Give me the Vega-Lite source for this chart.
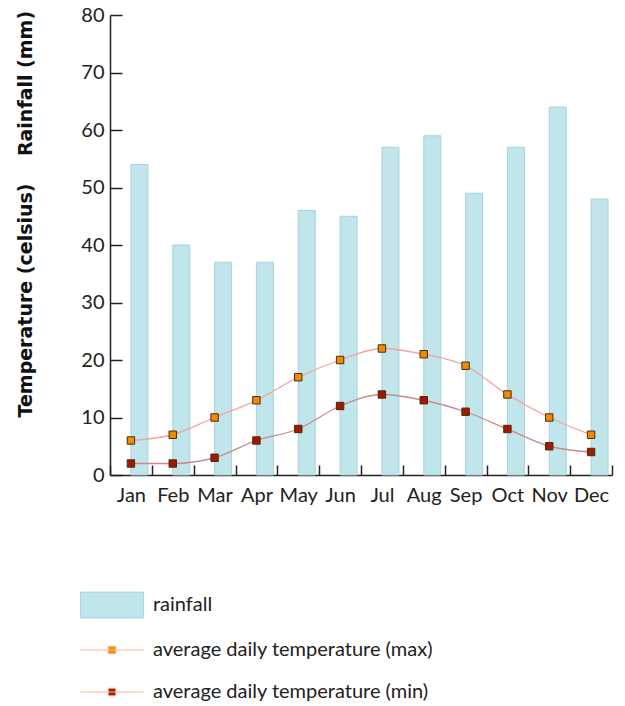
{
  "$schema": "https://vega.github.io/schema/vega-lite/v6.json",
  "width": 502,
  "height": 460,
  "autosize": {"type": "none"},
  "padding": {"left": 110, "top": 15, "right": 13, "bottom": 231},
  "background": "white",
  "config": {"view": {"stroke": null}, "axis": {"grid": false}, "legend": {"offset": 0}},
  "datasets": {
    "rain": [
      {"month": "Jan", "rainfall": 54},
      {"month": "Feb", "rainfall": 40},
      {"month": "Mar", "rainfall": 37},
      {"month": "Apr", "rainfall": 37},
      {"month": "May", "rainfall": 46},
      {"month": "Jun", "rainfall": 45},
      {"month": "Jul", "rainfall": 57},
      {"month": "Aug", "rainfall": 59},
      {"month": "Sep", "rainfall": 49},
      {"month": "Oct", "rainfall": 57},
      {"month": "Nov", "rainfall": 64},
      {"month": "Dec", "rainfall": 48}
    ],
    "temp": [
      {"month": "Jan", "series": "average daily temperature (max)", "temp": 6},
      {"month": "Feb", "series": "average daily temperature (max)", "temp": 7},
      {"month": "Mar", "series": "average daily temperature (max)", "temp": 10},
      {"month": "Apr", "series": "average daily temperature (max)", "temp": 13},
      {"month": "May", "series": "average daily temperature (max)", "temp": 17},
      {"month": "Jun", "series": "average daily temperature (max)", "temp": 20},
      {"month": "Jul", "series": "average daily temperature (max)", "temp": 22},
      {"month": "Aug", "series": "average daily temperature (max)", "temp": 21},
      {"month": "Sep", "series": "average daily temperature (max)", "temp": 19},
      {"month": "Oct", "series": "average daily temperature (max)", "temp": 14},
      {"month": "Nov", "series": "average daily temperature (max)", "temp": 10},
      {"month": "Dec", "series": "average daily temperature (max)", "temp": 7},
      {"month": "Jan", "series": "average daily temperature (min)", "temp": 2},
      {"month": "Feb", "series": "average daily temperature (min)", "temp": 2},
      {"month": "Mar", "series": "average daily temperature (min)", "temp": 3},
      {"month": "Apr", "series": "average daily temperature (min)", "temp": 6},
      {"month": "May", "series": "average daily temperature (min)", "temp": 8},
      {"month": "Jun", "series": "average daily temperature (min)", "temp": 12},
      {"month": "Jul", "series": "average daily temperature (min)", "temp": 14},
      {"month": "Aug", "series": "average daily temperature (min)", "temp": 13},
      {"month": "Sep", "series": "average daily temperature (min)", "temp": 11},
      {"month": "Oct", "series": "average daily temperature (min)", "temp": 8},
      {"month": "Nov", "series": "average daily temperature (min)", "temp": 5},
      {"month": "Dec", "series": "average daily temperature (min)", "temp": 4}
    ]
  },
  "encoding": {
    "x": {
      "field": "month",
      "type": "ordinal",
      "sort": ["Jan", "Feb", "Mar", "Apr", "May", "Jun", "Jul", "Aug", "Sep", "Oct", "Nov", "Dec"],
      "scale": {"paddingInner": 0, "paddingOuter": 0},
      "axis": {
        "title": null,
        "labelAngle": 0,
        "tickBand": "extent",
        "tickSize": -10,
        "tickColor": "#222",
        "tickWidth": 1.5,
        "domainColor": "#222",
        "domainWidth": 1.5,
        "labelPadding": 20,
        "labelFont": "Lato",
        "labelFontSize": 20,
        "labelColor": "#222",
        "encode": {"ticks": {"update": {"y2": {"value": -10}}}}
      }
    }
  },
  "layer": [
    {
      "data": {"name": "rain"},
      "mark": {"type": "bar", "width": 17, "xOffset": 8.5, "stroke": "#a9d3da", "strokeWidth": 1},
      "encoding": {
        "y": {
          "field": "rainfall",
          "type": "quantitative",
          "scale": {"domain": [0, 80]},
          "axis": {
            "orient": "left",
            "values": [0, 10, 20, 30, 40, 50, 60, 70, 80],
            "tickSize": -12,
            "tickColor": "#222",
            "tickWidth": 1.5,
            "domainColor": "#222",
            "domainWidth": 1.5,
            "labelPadding": 18,
            "labelFont": "Lato",
            "labelFontSize": 20,
            "labelColor": "#222",
            "encode": {"ticks": {"update": {"x2": {"value": 12}}}},
            "title": "Rainfall (mm)",
            "titleFont": "DejaVu Sans",
            "titleFontWeight": "bold",
            "titleFontSize": 19,
            "titleColor": "#111",
            "titleAngle": -90,
            "titleAlign": "center",
            "titleBaseline": "middle",
            "titleX": -85,
            "titleY": 68
          }
        },
        "color": {
          "datum": "rainfall",
          "type": "nominal",
          "scale": {"range": ["#c0e5eb"]},
          "legend": {
            "orient": "none",
            "legendX": -30,
            "legendY": 558,
            "title": null,
            "symbolType": "M-1,-0.41H1V0.41H-1Z",
            "symbolSize": 3969,
            "symbolStrokeColor": "#a9d3da",
            "symbolStrokeWidth": 1,
            "labelFont": "Lato",
            "labelFontSize": 20,
            "labelColor": "#222",
            "labelOffset": 9,
            "labelLimit": 400,
            "padding": 0
          }
        }
      }
    },
    {
      "data": {"name": "temp"},
      "encoding": {
        "y": {
          "field": "temp",
          "type": "quantitative",
          "scale": {"domain": [0, 80]},
          "axis": {
            "orient": "left",
            "labels": false,
            "ticks": false,
            "domain": false,
            "title": "Temperature (celsius)",
            "titleFont": "DejaVu Sans",
            "titleFontWeight": "bold",
            "titleFontSize": 19,
            "titleColor": "#111",
            "titleAngle": -90,
            "titleAlign": "center",
            "titleBaseline": "middle",
            "titleX": -85,
            "titleY": 285
          }
        }
      },
      "layer": [
        {
          "mark": {"type": "line", "interpolate": "monotone", "strokeWidth": 1.3},
          "encoding": {
            "stroke": {
              "field": "series",
              "type": "nominal",
              "scale": {
                "domain": ["average daily temperature (max)", "average daily temperature (min)"],
                "range": ["#f3a3a0", "#c98a8a"]
              },
              "legend": null
            }
          }
        },
        {
          "mark": {"type": "point", "shape": "square", "filled": true, "size": 55, "stroke": "#4a2a10", "strokeWidth": 1, "opacity": 1},
          "encoding": {
            "color": {
              "field": "series",
              "type": "nominal",
              "scale": {
                "domain": ["average daily temperature (max)", "average daily temperature (min)"],
                "range": ["#f08c00", "#a01a00"]
              },
              "legend": {
                "orient": "none",
                "legendX": -30,
                "legendY": 603,
                "title": null,
                "symbolType": "M-1,0H1M-0.12,-0.12H0.12V0.12H-0.12Z",
                "symbolSize": 3969,
                "symbolStrokeColor": "#f5b9a6",
                "symbolStrokeWidth": 1,
                "labelFont": "Lato",
                "labelFontSize": 20,
                "labelColor": "#222",
                "labelOffset": 9,
                "labelLimit": 400,
                "rowPadding": -12,
                "padding": 0
              }
            }
          }
        }
      ]
    }
  ],
  "resolve": {"axis": {"y": "independent"}, "scale": {"color": "independent"}}
}
